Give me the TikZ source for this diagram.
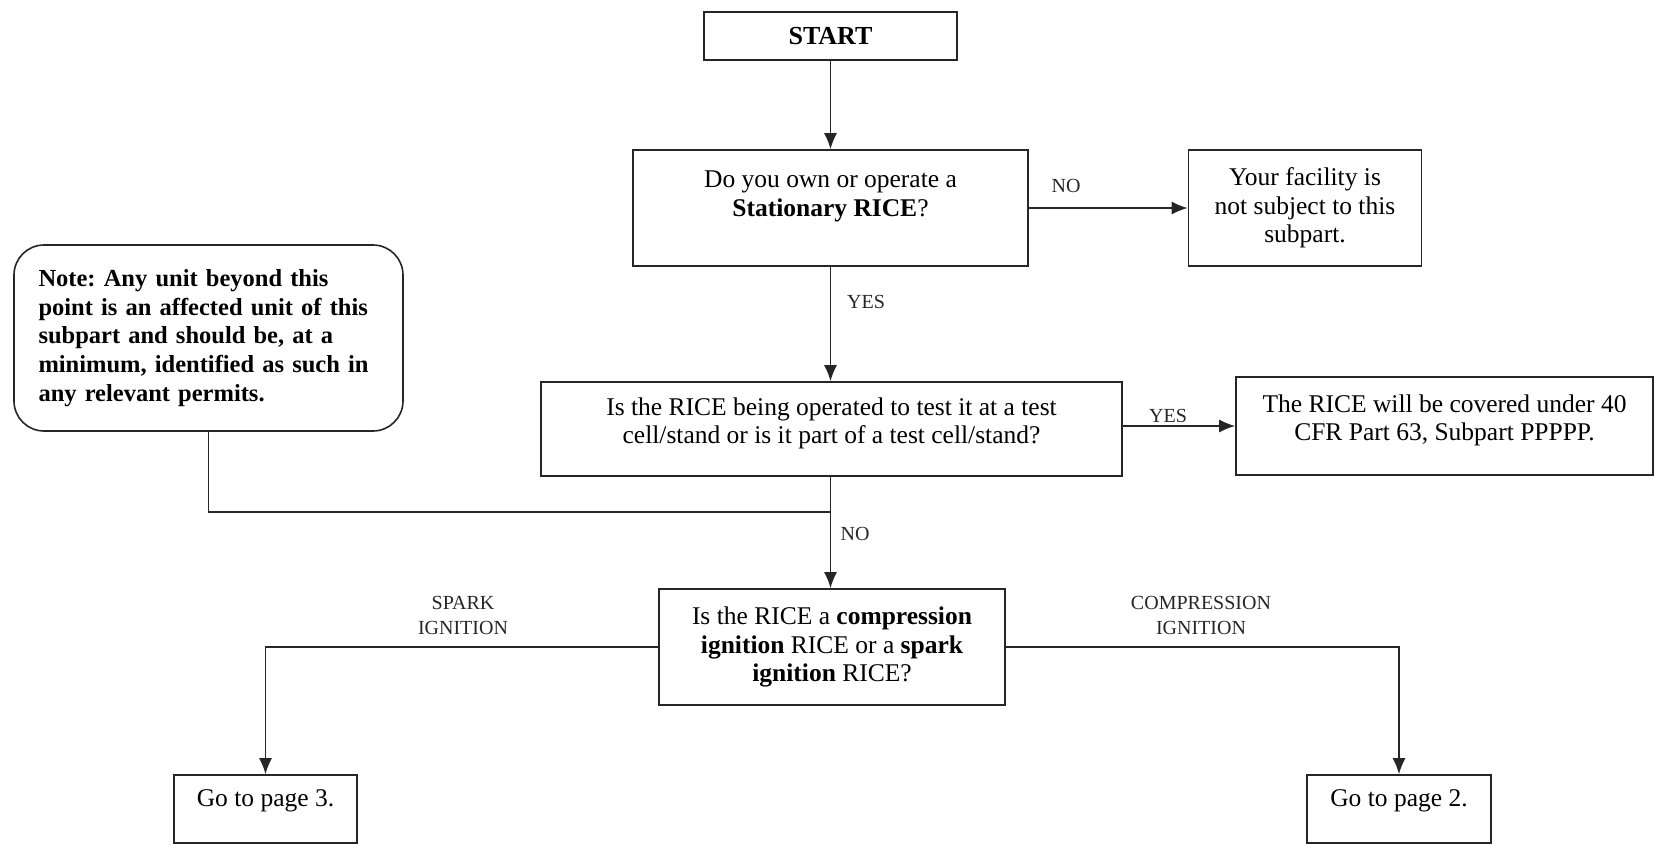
\documentclass[tikz,border=0pt]{standalone}
\usepackage{fontspec}
\setmainfont{Liberation Serif}
\usetikzlibrary{arrows.meta}
\frenchspacing
\begin{document}
\begin{tikzpicture}[x=1pt,y=-1pt,
  box/.style={draw=black!85,line width=1.6pt,align=center,inner sep=0pt,
    font=\fontsize{25.5}{28.5}\selectfont},
  lbl/.style={font=\fontsize{20}{25}\selectfont,align=center,inner sep=0pt,text=black!85},
  arr/.style={draw=black!85,line width=1.6pt,-{Latex[length=16pt,width=13pt]}},
  conn/.style={draw=black!85,line width=1.6pt}]
\useasboundingbox (0,0) rectangle (1655,844);

\node[box,minimum width=253pt,minimum height=48pt,font=\fontsize{26}{30}\selectfont\bfseries] (start) at (830.5,36) {START};
\node[box,minimum width=395pt,minimum height=116pt] (stat) at (830.5,208)
  {Do you own or operate a\\ \textbf{Stationary RICE}?\\ \mbox{}};
\node[box,minimum width=233pt,minimum height=116pt] (notsub) at (1305,208)
  {Your facility is\\ not subject to this\\ subpart.};
\node[box,rounded corners=30pt,minimum width=389pt,minimum height=186pt,text width=340pt,align=left,
  font=\fontsize{24.5}{28.8}\selectfont\bfseries] (note) at (208.5,338)
  {Note: Any unit beyond this\\ point is an affected unit of this\\ subpart and should be, at a\\ minimum, identified as such in\\ any relevant permits.};
\node[box,minimum width=581pt,minimum height=94pt] (test) at (831.5,429)
  {Is the RICE being operated to test it at a test\\ cell/stand or is it part of a test cell/stand?\\[-12pt]\mbox{}};
\node[box,minimum width=417pt,minimum height=98pt] (ppp) at (1444.5,426)
  {The RICE will be covered under 40\\ CFR Part 63, Subpart PPPPP.\\[-12pt]\mbox{}};
\node[box,minimum width=346pt,minimum height=116pt] (comp) at (832,647)
  {Is the RICE a \textbf{compression}\\ \textbf{ignition} RICE or a \textbf{spark}\\ \textbf{ignition} RICE?};
\node[box,minimum width=183pt,minimum height=68pt] (go3) at (265.5,809)
  {Go to page 3.\\[-6pt]\mbox{}};
\node[box,minimum width=184pt,minimum height=68pt] (go2) at (1399,809)
  {Go to page 2.\\[-6pt]\mbox{}};

\node[lbl] (lno1) at (1066,186) {NO};
\node[lbl] (lyes1) at (866,302) {YES};
\node[lbl] (lyes2) at (1168,416) {YES};
\node[lbl] (lno2) at (855,534) {NO};
\node[lbl] (lspark) at (463,615) {SPARK\\ IGNITION};
\node[lbl] (lcomp) at (1201,615) {COMPRESSION\\ IGNITION};

\coordinate (join) at (830.5,512);

\draw[arr] (start.south) -- (stat.north);
\draw[arr] (stat.east) -- (stat.east -| notsub.west);
\draw[arr] (stat.south) -- (test.north -| stat.south);
\draw[arr] (test.east |- ppp.west) -- (ppp.west);
\draw[arr] (test.south -| stat.south) -- (comp.north -| stat.south);
\draw[conn] (note.south) |- (join);
\draw[arr] (comp.west) -| (go3.north);
\draw[arr] (comp.east) -| (go2.north);
\end{tikzpicture}
\end{document}
